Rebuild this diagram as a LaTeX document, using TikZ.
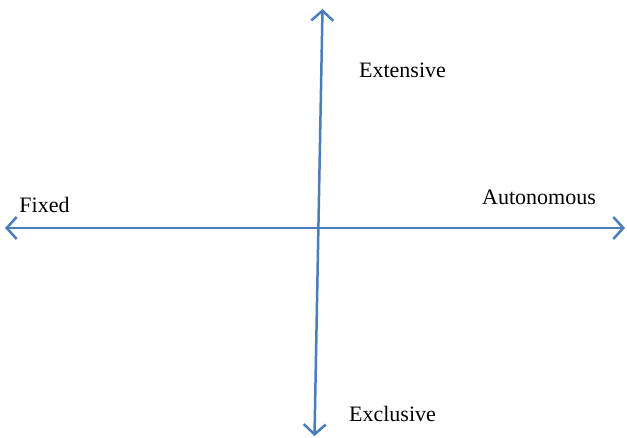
\documentclass[tikz,border=0pt]{standalone}
\usepackage{fontspec}
\setmainfont{Liberation Serif}
\usepackage{tikz}
\usetikzlibrary{arrows.meta}
\definecolor{axisBlue}{RGB}{74,126,187}

\begin{document}
\begin{tikzpicture}[x=1pt,y=-1pt,
    axis/.style={axisBlue,line width=2.5pt,{Straight Barb[length=10pt,width=22pt]}-{Straight Barb[length=10pt,width=22pt]}},
    pole/.style={anchor=base,font=\fontsize{22}{24}\selectfont,inner sep=0pt}]
      \useasboundingbox (0,0) rectangle (627,438);
      \coordinate (top)    at (322.5,9);
      \coordinate (bottom) at (314.5,436);
      \coordinate (left)   at (5,228);
      \coordinate (right)  at (625,228);
      \draw[axis] (left) -- (right);
      \draw[axis] (bottom) -- (top);
      \node[pole] (extensive)  at (402.5,78)  {Extensive};
      \node[pole] (fixed)      at (44.5,213)  {Fixed};
      \node[pole] (autonomous) at (539,205)   {Autonomous};
      \node[pole] (exclusive)  at (392.5,421) {Exclusive};
    \end{tikzpicture}
\end{document}
